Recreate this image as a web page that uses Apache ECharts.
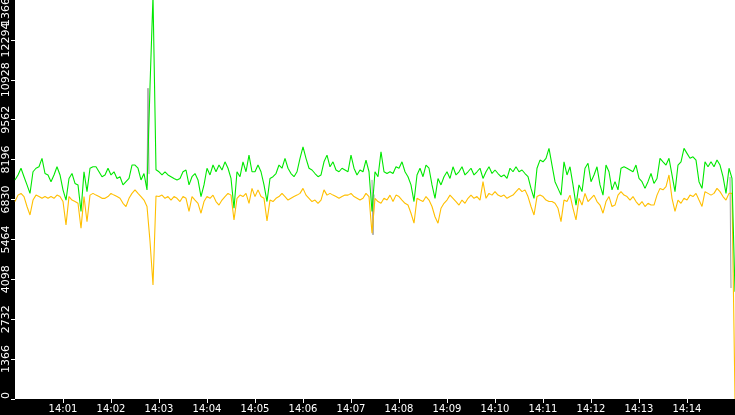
<!DOCTYPE html>
<html>
<head>
<meta charset="utf-8">
<script src="https://cdn.jsdelivr.net/npm/echarts@6/dist/echarts.min.js"></script>
<style>
html,body{margin:0;padding:0;background:#000;}
#chart{width:735px;height:415px;}
</style>
</head>
<body>
<div id="chart"></div>
<script>
// time axis: seconds after 14:00:00, one sample every 3.75 s
const stepSeconds = 3.75;
const timeLabels = ['14:00','14:01','14:02','14:03','14:04','14:05','14:06','14:07','14:08','14:09','14:10','14:11','14:12','14:13','14:14','14:15'];
const yTicks = [0,1366,2732,4098,5464,6830,8196,9562,10928,12294,13660];

const greenValues = [
7500,7670,7900,7610,7330,7040,7780,7900,7950,8240,7720,7670,7440,7670,7950,7670,7160,6810,7550,7720,7380,7330,6420,7780,7100,7900,7950,7950,7780,7610,7670,7900,7670,7780,7550,7610,7330,7440,7550,8010,
8010,7900,7500,7720,7160,10700,13800,7850,7780,7670,7780,7670,7610,7550,7500,7550,7780,7840,7330,7610,7720,7500,6930,7330,7900,7670,8010,7780,8010,7840,8120,7900,7550,6530,7780,7610,8120,7780,8350,7780,
7780,8010,7780,7330,6760,7550,7610,7720,8010,7900,8240,7900,7720,7610,7780,8240,8630,8240,7900,7840,7720,7610,7670,8120,8350,7950,8120,7840,7780,7900,7840,7780,8350,7900,7670,7840,7780,8180,7780,6420,
7780,7610,8460,7780,7720,7780,7720,7950,7900,8120,7780,7610,7330,6760,7670,7900,7610,8010,7900,7330,6870,7550,7330,7610,7780,7550,7950,7670,7780,7950,7670,7780,7900,7670,7780,7900,7550,7780,7950,7720,
7840,7720,7610,7670,7550,7900,7780,7950,7780,7840,7720,7610,7210,6870,7900,8180,8120,8240,8580,8010,7440,7210,6980,8120,7670,7950,7330,6640,7330,7100,7900,8070,7440,7670,7950,7330,6980,8010,7780,7160,
7440,7160,7900,7950,7900,7840,7780,8010,7550,7440,7210,7440,7720,7380,7550,8240,8120,8010,8240,7670,7100,8010,8120,8580,8410,8240,8290,8180,7440,7210,8120,7950,8120,7950,8180,8010,7610,7040,7900,7550,
3670];

const orangeValues = [
6760,6980,7040,6930,6590,6300,6810,6980,6930,6870,6930,6870,6930,6870,6980,6930,6760,5960,6930,6810,6760,6700,5850,6930,6070,6980,7040,6980,6930,6870,6870,6930,7040,6980,6930,6870,6700,6590,6870,7040,
7160,7040,6930,6810,6590,5400,3900,6950,6930,6980,6870,6930,6810,6930,6870,6760,6930,6870,6420,6930,6810,6700,6360,6760,6930,6870,6980,6760,6640,6810,6930,7040,6980,6130,6870,6980,6930,7040,6700,7210,
6930,7160,6930,6870,6100,6810,6760,6870,6930,7040,6930,6810,6870,6930,6980,7040,7210,6980,6870,6760,6810,6700,6810,7160,6980,7040,6980,6930,6870,6930,6980,6980,7040,6930,6870,6810,6870,7040,6930,5680,
6870,6760,6700,6870,6810,6980,6760,6980,6930,6810,6700,6640,6360,6020,6870,6810,6760,6930,6810,6590,6240,6020,6530,6700,6810,6980,6870,6760,6640,6810,6700,6870,6980,6870,6930,6810,7440,6870,7040,6980,
7100,6980,6930,6980,6870,6930,6980,7100,7210,7100,7160,6930,6590,6300,6930,6980,6930,6810,6760,6760,6700,6530,6070,6810,6760,6980,6530,6130,6870,6640,7040,6760,6870,6980,6760,6640,6360,6760,6930,6590,
6640,6980,7100,6980,6930,6810,6930,6760,6640,6760,6590,6700,6640,6640,6980,7210,7160,7270,7670,6870,6420,6810,6700,6870,6810,6980,6930,7040,6810,6590,7100,7040,6980,7040,7210,7100,6930,6810,7040,7040,
0];

// short grey excursions (seconds after 14:00:00, value; null breaks the line)
const greyTimes  = [165.0, 166.25, 167.5, 167.6, 446.25, 447.5, 448.75, 448.8, 893.75, 895.0];
const greyValues = [7300, 10640, 7700, null, 7500, 5620, 7000, null, 7600, 3800];

const toPairs = vals => vals.map((v, i) => [i * stepSeconds, v]);
const yMin = yTicks[0];
const yMax = yTicks[yTicks.length - 1];
const yStep = yTicks[1] - yTicks[0];

const chart = echarts.init(document.getElementById('chart'), null, {renderer: 'canvas'});
chart.setOption({
  backgroundColor: '#000',
  animation: false,
  grid: {left: 15, right: 0, top: 0, bottom: 16, show: true, backgroundColor: '#fff', borderWidth: 0,
         containLabel: false, outerBoundsMode: 'none'},
  xAxis: {
    type: 'value', min: 0, max: 900, interval: 60,
    axisLine: {show: false},
    axisTick: {show: true, length: 4, lineStyle: {color: '#fff', width: 1}},
    splitLine: {show: false},
    axisLabel: {
      color: '#fff', fontFamily: 'DejaVu Sans', fontSize: 10, margin: 5,
      showMinLabel: false, showMaxLabel: false,
      formatter: v => timeLabels[Math.round(v / 60)]
    }
  },
  yAxis: [{
    type: 'value', min: yMin, max: yMax, interval: yStep,
    axisLine: {show: false},
    axisTick: {show: true, length: 4, lineStyle: {color: '#fff', width: 1}},
    splitLine: {show: false},
    axisLabel: {color: '#fff', fontFamily: 'DejaVu Sans', fontSize: 11, rotate: 90, margin: 3,
      alignMinLabel: 'left', showMaxLabel: false,
      formatter: v => String(v)}
  }, {
    // carries only the top tick label, nudged down inside the frame
    type: 'value', position: 'left', min: yMin, max: yMax, interval: yStep,
    axisLine: {show: false}, axisTick: {show: false}, splitLine: {show: false},
    axisLabel: {color: '#fff', fontFamily: 'DejaVu Sans', fontSize: 11, rotate: 90, margin: 3,
      showMinLabel: false, showMaxLabel: true,
      formatter: v => v === yMax ? '{top|' + v + '}' : '',
      rich: {top: {color: '#fff', fontFamily: 'DejaVu Sans', fontSize: 11, padding: [0, 17, 0, 0]}}}
  }],
  series: [
    {type: 'line', data: greyTimes.map((t, k) => [t, greyValues[k]]), symbol: 'none', connectNulls: false,
     lineStyle: {color: '#9a9a9a', width: 1}},
    {type: 'line', data: toPairs(orangeValues), symbol: 'none', lineStyle: {color: '#ffbf00', width: 1.1}},
    {type: 'line', data: toPairs(greenValues), symbol: 'none', lineStyle: {color: '#00e800', width: 1.1}}
  ]
});
</script>
</body>
</html>
